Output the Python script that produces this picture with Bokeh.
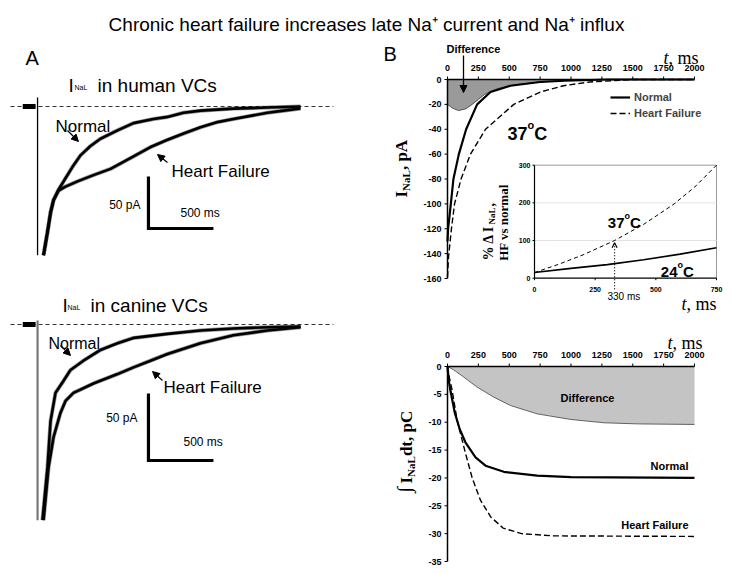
import math
from bokeh.plotting import figure
from bokeh.models import Range1d, Legend, LegendItem, Arrow, NormalHead, OpenHead
from bokeh.core.properties import value
from bokeh.embed import file_html
from bokeh.resources import INLINE

SANS = "Liberation Sans"
SERIF = "Liberation Serif"

# ---------------- DATA ----------------
# Panel A: recorded late Na+ current (ms, pA)
human_normal_ms = [8, 38, 62, 85, 123, 177, 231, 292, 369, 446, 577, 700, 854, 962, 1085, 1215, 1469, 1731, 1985]
human_normal_pA = [-143, -121, -102, -90, -80, -69, -58, -47, -38, -31, -23, -16, -12, -10, -6, -4, -2, -1, 0]
human_hf_ms = [8, 38, 62, 85, 123, 177, 269, 392, 523, 700, 831, 962, 1085, 1215, 1346, 1469, 1600, 1731, 1854, 1985]
human_hf_pA = [-143, -121, -102, -90, -81, -77, -72, -66, -60, -48, -39, -32, -26, -20, -15, -12, -9, -6, -4, -2]

canine_normal_ms = [0, 38, 62, 100, 162, 215, 315, 446, 577, 700, 962, 1215, 1469, 1731, 1985]
canine_normal_pA = [-146, -107, -72, -51, -42, -34, -27, -19, -14, -10, -7, -4.5, -3, -2, -1.5]
canine_hf_ms = [8, 46, 85, 138, 177, 238, 392, 577, 700, 831, 962, 1215, 1469, 1731, 1985]
canine_hf_pA = [-146, -107, -84, -66, -57, -51, -44, -37, -32, -27, -22, -14, -8, -4.5, -2]

step_ms = -38
scale_bar_pA = 50
scale_bar_ms = 500

# Panel B top: simulated INaL at 37 C (ms, pA)
time_ticks = [0, 250, 500, 750, 1000, 1250, 1500, 1750, 2000]
current_ticks = [0, -20, -40, -60, -80, -100, -120, -140, -160]
model_normal_ms = [0, 5, 27, 48, 92, 151, 240, 348, 510, 750, 950, 1300, 2000]
model_normal_pA = [-130, -120, -100, -80, -60, -40, -20, -10, -5, -2, -1, 0, 0]
model_hf_ms = [0, 8, 32, 57, 110, 186, 308, 537, 753, 940, 1150, 1500, 2000]
model_hf_pA = [-159, -143, -120, -100, -80, -60, -40, -20, -10, -5, -2, 0, 0]
model_diff_ms = [0, 40, 90, 150, 200, 250, 300, 400, 500, 600, 750, 900, 1000, 1100]
model_diff_pA = [-20, -23, -25, -23.5, -20, -16, -12, -7.5, -5, -3.5, -2, -1, -0.3, 0]

# Inset: % change of INaL, HF vs normal
inset_x_ticks = [0, 250, 500, 750]
inset_y_ticks = [0, 100, 200, 300]
pct37_ms = [0, 100, 200, 330, 450, 575, 660, 750]
pct37 = [15, 37, 62, 100, 143, 197, 242, 300]
pct24_ms = [0, 150, 300, 450, 600, 750]
pct24 = [15, 26, 36, 49, 64, 81]
marker_ms = 330
marker_pct = 94

# Panel B bottom: integrated INaL (ms, pC)
charge_ticks = [0, -5, -10, -15, -20, -25, -30, -35]
charge_normal_ms = [0, 10, 25, 60, 100, 145, 227, 308, 456, 726, 1000, 2000]
charge_normal_pC = [0, -2.5, -4.5, -8.4, -11.3, -13.6, -16.3, -17.8, -18.9, -19.6, -19.85, -20]
charge_hf_ms = [0, 15, 38, 78, 146, 200, 267, 350, 450, 600, 860, 2000]
charge_hf_pC = [0, -2, -4.3, -9.7, -15.6, -20, -24, -27, -29, -30, -30.4, -30.5]
charge_diff_ms = [0, 50, 132, 240, 375, 510, 726, 996, 1266, 1536, 2000]
charge_diff_pC = [0, -0.6, -1.9, -3.7, -5.5, -7, -8.5, -9.5, -10.1, -10.3, -10.4]

# ---------------- CANVAS ----------------
W, H = 733, 573
X_LO, X_HI, Y_TOP, Y_BOT = 0, W, 0, H   # page pixels covered by the frame

P = figure(width=W, height=H, x_range=Range1d(X_LO, X_HI), y_range=Range1d(Y_BOT, Y_TOP),
           x_axis_type=None, y_axis_type=None, toolbar_location=None, output_backend="svg",
           min_border=0, title=None)
P.outline_line_color = None
P.background_fill_color = "white"
P.border_fill_color = "white"

# panel placements: (value 0 at page px, px per unit) for x and y
PANELS = {
    "a1": (42, 0.13, 106, 1.04),
    "a2": (42, 0.13, 324, 1.34),
    "b1": (447, 247 / 2000, 79, 199 / 160),
    "in": (534, 182 / 750, 277.7, 113 / 300),
    "b2": (447, 247 / 2000, 366, 195 / 35),
}
xr, yr = {}, {}
for k, (x0, sx, y0, sy) in PANELS.items():
    xr[k] = Range1d((X_LO - x0) / sx, (X_HI - x0) / sx)
    yr[k] = Range1d((y0 - Y_BOT) / sy, (y0 - Y_TOP) / sy)
P.extra_x_ranges = xr
P.extra_y_ranges = yr


def kw(k):
    return dict(x_range_name=k, y_range_name=k)


def dx(k, px):
    return px / PANELS[k][1]


def dy(k, px):
    return px / PANELS[k][3]


def txt(x, y, s, size, font=SANS, style="normal", align="left", baseline="alphabetic",
        angle=0.0, color="black", panel=None):
    extra = kw(panel) if panel else {}
    if not isinstance(x, list):
        x, y, s = [x], [y], [s]
    P.text(x=x, y=y, text=s, text_font=value(font), text_font_size=value(size),
           text_font_style=value(style), text_align=value(align), text_baseline=value(baseline),
           angle=angle, text_color=color, **extra)


def h_axis(k, ticks, y_at, above=True, size="9px", tick_px=3, gap_px=12, lw=1.5):
    P.line(x=[ticks[0], ticks[-1]], y=[y_at, y_at], line_color="black", line_width=lw, **kw(k))
    sgn = 1 if above else -1
    P.segment(x0=ticks, y0=[y_at] * len(ticks), x1=ticks, y1=[y_at + sgn * dy(k, tick_px)] * len(ticks),
              line_color="black", line_width=1, **kw(k))
    txt(list(ticks), [y_at + sgn * dy(k, gap_px)] * len(ticks), [str(t) for t in ticks], size,
        style="bold", align="center", baseline="middle", panel=k)


def v_axis(k, ticks, x_at, size="9px", tick_px=3, gap_px=6, lw=1.5):
    P.line(x=[x_at, x_at], y=[min(ticks), max(ticks)], line_color="black", line_width=lw, **kw(k))
    P.segment(x0=[x_at] * len(ticks), y0=ticks, x1=[x_at - dx(k, tick_px)] * len(ticks), y1=ticks,
              line_color="black", line_width=1, **kw(k))
    txt([x_at - dx(k, gap_px)] * len(ticks), list(ticks), [str(t) for t in ticks], size,
        style="bold", align="right", baseline="middle", panel=k)


# ---------------- PANEL A ----------------
for k, nms, npa, hms, hpa, vcol, vw, vtop, vbot, corner in [
        ("a1", human_normal_ms, human_normal_pA, human_hf_ms, human_hf_pA, "black", 1.3, 8.7, -143, -117.3),
        ("a2", canine_normal_ms, canine_normal_pA, canine_hf_ms, canine_hf_pA, "#777777", 2.2, 3, -146, -101.5)]:
    P.line(x=[-246, 2238], y=[0, 0], line_color="#333333", line_dash="4 3", line_width=1, **kw(k))
    P.line(x=[step_ms, step_ms], y=[vtop, vbot], line_color=vcol, line_width=vw, **kw(k))
    P.line(x=[step_ms * 4, step_ms * 1.4], y=[0, 0], line_color="black", line_width=5, **kw(k))
    for xs, ys in [(hms, hpa), (nms, npa)]:
        P.line(x=xs, y=ys, line_color="#151515", line_width=4, line_alpha=0.45, **kw(k))
        P.line(x=xs, y=ys, line_color="black", line_width=2.6, **kw(k))
    c_ms = 815
    P.line(x=[c_ms, c_ms, c_ms + scale_bar_ms], y=[corner + scale_bar_pA, corner, corner],
           line_color="black", line_width=3.2, line_join="miter", **kw(k))

# ---------------- PANEL B TOP ----------------
P.varea(x=model_diff_ms, y1=model_diff_pA, y2=0, fill_color="#9a9a9a", **kw("b1"))
P.line(x=model_diff_ms, y=model_diff_pA, line_color="#555555", line_width=1, **kw("b1"))
r_hf = P.line(x=model_hf_ms, y=model_hf_pA, line_color="black", line_width=1.4, line_dash="6 3", **kw("b1"))
r_n = P.line(x=model_normal_ms, y=model_normal_pA, line_color="black", line_width=2.2, **kw("b1"))
h_axis("b1", time_ticks, 0, above=True)
v_axis("b1", current_ticks, 0)

leg = Legend(items=[LegendItem(label="Normal", renderers=[r_n]),
                    LegendItem(label="Heart Failure", renderers=[r_hf])],
             location=(610 - X_LO, Y_BOT - 121), orientation="vertical")
leg.label_text_font = SANS
leg.label_text_font_size = "11px"
leg.label_text_font_style = "bold"
leg.glyph_width = 20
leg.glyph_height = 16
leg.label_height = 16
leg.label_standoff = 4
leg.spacing = 0
leg.padding = 0
leg.margin = 0
leg.border_line_color = None
leg.background_fill_alpha = 0
P.add_layout(leg)

# ---------------- INSET ----------------
P.line(x=[0, 750, 750], y=[300, 300, 0], line_color="#9a9a9a", line_width=1, **kw("in"))
P.multi_line(xs=[[0, 750], [0, 750]], ys=[[100, 100], [200, 200]], line_color="#e3e3e3", line_width=1, **kw("in"))
P.line(x=pct37_ms, y=pct37, line_color="black", line_width=1, line_dash="4 3", **kw("in"))
P.line(x=pct24_ms, y=pct24, line_color="black", line_width=1.6, **kw("in"))
h_axis("in", inset_x_ticks, 0, above=False, size="7px", tick_px=2, gap_px=11, lw=1.2)
v_axis("in", inset_y_ticks, 0, size="7px", tick_px=2, gap_px=4, lw=1.2)
P.add_layout(Arrow(x_start=marker_ms, y_start=-dy("in", 11), x_end=marker_ms, y_end=marker_pct,
                   line_width=1.2, line_dash="1 2", x_range_name="in", y_range_name="in",
                   end=OpenHead(size=5, line_width=1.2)))

# ---------------- PANEL B BOTTOM ----------------
P.varea(x=charge_diff_ms, y1=charge_diff_pC, y2=0, fill_color="#c4c4c4", **kw("b2"))
P.line(x=charge_diff_ms, y=charge_diff_pC, line_color="#555555", line_width=0.9, **kw("b2"))
P.line(x=charge_hf_ms, y=charge_hf_pC, line_color="black", line_width=1.4, line_dash="6 3", **kw("b2"))
P.line(x=charge_normal_ms, y=charge_normal_pC, line_color="black", line_width=2.2, **kw("b2"))
h_axis("b2", time_ticks, 0, above=True)
v_axis("b2", charge_ticks, 0)

# ---------------- TEXT (page coordinates) ----------------
txt(366, 24, "Chronic heart failure increases late Na\u207a current and Na\u207a influx", "19px", align="center")
txt(25, 57, "A", "20px")
txt(383, 53, "B", "20px")

for x_i, x_sub, x_rest, yb, rest in [(68, 74, 97, 85, "in human VCs"), (62, 67, 90, 305, "in canine VCs")]:
    txt(x_i, yb, "I", "19px")
    txt(x_sub, yb + 2, "NaL", "7px")
    txt(x_rest, yb, rest, "19px")

txt(55, 126, "Normal", "17px")
txt(171, 171, "Heart Failure", "17px")
txt(48, 343, "Normal", "16px")
txt(163, 387, "Heart Failure", "17px")
txt(140, 204, "50 pA", "12px", align="right", baseline="middle")
txt(180, 212, "500  ms", "12px", baseline="middle")
txt(137, 417, "50 pA", "12px", align="right", baseline="middle")
txt(183, 441, "500  ms", "12px", baseline="middle")
for xs, ys, xe, ye in [(67, 130, 78, 141), (167, 162, 157, 154), (60, 345, 70, 355), (162, 380, 152, 371)]:
    P.add_layout(Arrow(x_start=xs, y_start=ys, x_end=xe, y_end=ye, line_width=1.2,
                       end=NormalHead(size=7, fill_color="black", line_color="black")))

txt(446, 48, "Difference", "11px", style="bold", baseline="middle")
P.add_layout(Arrow(x_start=463, y_start=55, x_end=463, y_end=92, line_width=1.3,
                   end=NormalHead(size=7, fill_color="black", line_color="black")))
for xm, yb in [(668, 57), (672, 342), (686, 303)]:
    txt(xm, yb, "t", "18px", font=SERIF, style="italic", align="right")
    txt(xm, yb, ", ms", "18px", font=SERIF)


def deg_label(x_end, yb, num, big, small):
    bs, ss = float(big[:-2]), float(small[:-2])
    txt(x_end, yb, num, big, style="bold", align="right")
    txt(x_end, yb - bs * 0.45, "o", small, style="bold")
    txt(x_end + ss * 0.611, yb, "C", big, style="bold")


deg_label(527, 133, "37", "18px", "11px")
deg_label(624, 222, "37", "15px", "9px")
deg_label(677, 271, "24", "15px", "9px")

R = math.pi / 2
txt(401, 197, "I", "17px", font=SERIF, style="bold", baseline="middle", angle=R)
txt(405, 190.4, "NaL", "11px", font=SERIF, style="bold", baseline="middle", angle=R)
txt(401, 169.6, ", pA", "17px", font=SERIF, style="bold", baseline="middle", angle=R)

txt(403, 492, "\u222b", "20px", font=SERIF, style="bold", baseline="middle", angle=R)
txt(406, 483, "I", "17px", font=SERIF, style="bold", baseline="middle", angle=R)
txt(410, 476.4, "NaL", "11px", font=SERIF, style="bold", baseline="middle", angle=R)
txt(406, 455.6, " dt, pC", "17px", font=SERIF, style="bold", baseline="middle", angle=R)

txt(488, 260, "% \u0394 I", "14px", font=SERIF, style="bold", baseline="middle", angle=R)
txt(491, 224, "NaL", "9px", font=SERIF, style="bold", baseline="middle", angle=R)
txt(488, 206, ",", "14px", font=SERIF, style="bold", baseline="middle", angle=R)
txt(503, 222, "HF vs normal", "13px", font=SERIF, style="bold", align="center", baseline="middle", angle=R)

txt(607, 296, "330 ms", "10px", baseline="middle")

txt(587, 397, "Difference", "11px", style="bold", align="center", baseline="middle")
txt(688, 465, "Normal", "11px", style="bold", align="right", baseline="middle")
txt(688, 524, "Heart Failure", "11px", style="bold", align="right", baseline="middle")

open("out.html", "w").write(file_html(P, INLINE))
